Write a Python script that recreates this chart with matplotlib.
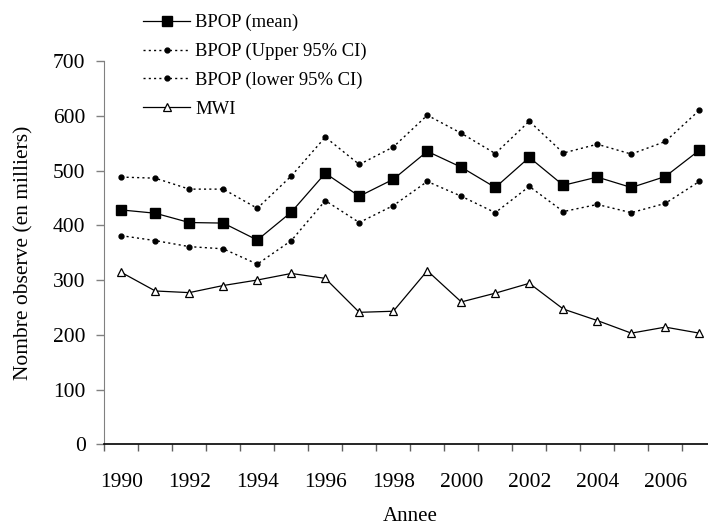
import matplotlib
matplotlib.use("Agg")
import matplotlib.pyplot as plt
import numpy as np

years = list(range(1990, 2008))
bpop_mean = [428, 422, 405, 404, 373, 424, 495, 453, 484,
             535, 506, 469, 524, 473, 488, 469, 489, 537]
bpop_upper = [488, 486, 466, 466, 431, 490, 561, 511, 543,
              601, 568, 531, 590, 532, 548, 530, 553, 610]
bpop_lower = [381, 372, 361, 357, 329, 372, 445, 405, 436,
              480, 453, 423, 471, 425, 438, 423, 440, 480]
mwi = [314, 280, 277, 290, 300, 312, 303, 241, 243,
       317, 260, 276, 294, 247, 226, 203, 214, 203]
xtick_years = years[::2]
yticks = [0, 100, 200, 300, 400, 500, 600, 700]

plt.rcParams['font.family'] = ['Liberation Serif', 'DejaVu Serif']

fig = plt.figure(figsize=(7.08, 5.25), dpi=100)
# axes runs past the right edge of the figure, like the cropped original
ax = fig.add_axes([104.3 / 708, (525 - 444.3) / 525, 612 / 708, 383.3 / 525])

dots = (0, (1.5, 2.3))
ax.plot(years, bpop_mean, color='black', lw=0.9, marker='s', ms=7,
        mfc='black', mec='black', label='BPOP (mean)')
ax.plot(years, bpop_upper, color='black', lw=1.0, ls=dots, marker='o', ms=3.5,
        mfc='black', mec='black', label='BPOP (Upper 95% CI)')
ax.plot(years, bpop_lower, color='black', lw=1.0, ls=dots, marker='o', ms=3.5,
        mfc='black', mec='black', label='BPOP (lower 95% CI)')
ax.plot(years, mwi, color='black', lw=0.9, marker='^', ms=6,
        mfc='white', mec='black', mew=0.9, label='MWI')

ax.set_xlim(1989.5, 2007.5)
ax.set_ylim(0, 700)
ax.set_yticks(yticks)
ax.set_xticks(xtick_years)
ax.set_xticks(np.arange(1989.5, 2008, 1.0), minor=True)

ax.spines['top'].set_visible(False)
ax.spines['right'].set_visible(False)
ax.spines['left'].set_color('#808080')
ax.spines['bottom'].set_color('black')
ax.spines['bottom'].set_linewidth(1.2)

ax.tick_params(axis='x', which='major', length=0, pad=21, labelsize=15.5)
ax.tick_params(axis='x', which='minor', length=5, width=1, color='#606060',
               direction='out')
ax.tick_params(axis='y', length=5.5, width=1, color='#808080', pad=8,
               labelsize=15.5)

ax.set_xlabel('Annee', fontsize=15)
ax.set_ylabel('Nombre observe (en milliers)', fontsize=15.5)
ax.xaxis.set_label_coords((410 - 104.3) / 612, -0.163)
ax.yaxis.set_label_coords(-0.115, 0.5)

fig.legend(loc='upper left', bbox_to_anchor=(143 / 708, 1 - 14 / 525),
           frameon=False, fontsize=13.4, borderaxespad=0, borderpad=0,
           handlelength=2.55, handletextpad=0.27, labelspacing=0.62)

fig.savefig('out.png', dpi=100)
